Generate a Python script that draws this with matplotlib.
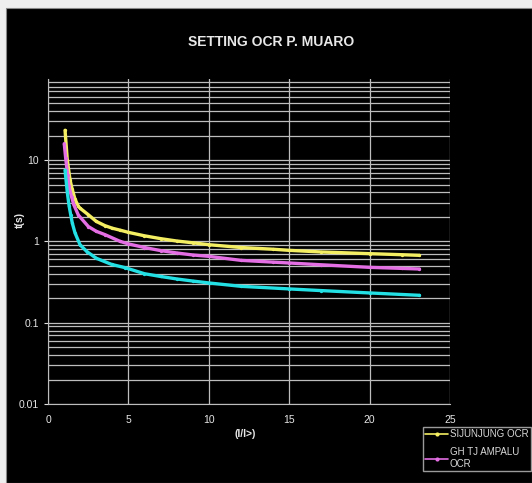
import matplotlib
matplotlib.use("Agg")
import matplotlib.pyplot as plt
from matplotlib.patches import Rectangle
from matplotlib.ticker import LogLocator, FixedLocator, NullFormatter, FixedFormatter

# ---- data ----
yellow_x = [1.06, 1.2, 1.37, 1.5, 1.68, 1.89, 2.0, 2.5, 3.0, 3.54, 4.0, 4.5, 5, 6, 7, 8, 9,
            10, 12, 14, 15, 17, 20, 22, 23.1]
yellow_t = [23.2, 10, 5.7, 4.4, 3.3, 2.69, 2.55, 2.13, 1.76, 1.56, 1.45, 1.37, 1.29, 1.17,
            1.08, 1.01, 0.96, 0.91, 0.84, 0.80, 0.775, 0.74, 0.706, 0.685, 0.673]

magenta_x = [1.01, 1.1, 1.22, 1.3, 1.47, 1.6, 1.89, 2.51, 3.0, 3.54, 4.48, 5, 6, 7, 8, 9,
             10, 12, 14, 15, 17, 20, 22, 23.1]
magenta_t = [15.9, 10.5, 6.6, 4.75, 3.5, 2.83, 2.1, 1.52, 1.33, 1.21, 1.0, 0.93, 0.84,
             0.77, 0.72, 0.68, 0.654, 0.584, 0.555, 0.542, 0.515, 0.479, 0.465, 0.457]

cyan_x = [1.06, 1.2, 1.31, 1.41, 1.51, 1.68, 1.99, 2.41, 3.0, 3.96, 4.79, 6, 7, 8, 9,
          10, 12, 15, 17, 20, 23.1]
cyan_t = [7.5, 4.0, 2.75, 2.13, 1.68, 1.27, 0.91, 0.75, 0.62, 0.52, 0.475, 0.40, 0.37,
          0.345, 0.325, 0.308, 0.28, 0.26, 0.248, 0.232, 0.217]

series_labels = ["SIJUNJUNG OCR", "GH TJ AMPALU\nOCR", "_nolegend_"]
series_colors = ["#f4ef62", "#e46ee4", "#22e0e4"]

x_ticks = [0, 5, 10, 15, 20, 25]
y_ticks = [0.01, 0.1, 1, 10]
y_tick_labels = ["0.01", "0.1", "1", "10"]

title = "SETTING OCR P. MUARO"
xlabel = "(I/I>)"
ylabel = "t(s)"

# ---- figure ----
W, H = 532, 483
fig = plt.figure(figsize=(W / 100, H / 100), dpi=100, facecolor="#eeeeee")
fig.patches.append(Rectangle((6 / W, 0), 1 - 6 / W, 1 - 8 / H, transform=fig.transFigure,
                             facecolor="black", edgecolor="#888888", lw=0.8, zorder=-10))

fam = ["Liberation Sans Narrow", "Liberation Sans", "DejaVu Sans"]

ax = fig.add_axes([48 / W, 1 - 404 / H, (450 - 48) / W, (404 - 78.7) / H])
ax.set_zorder(1)
ax.set_facecolor("black")
ax.set_yscale("log")
ax.set_xlim(0, 25)
ax.set_ylim(0.01, 100)

grid_c = "#bdbdbd"
ax.xaxis.set_major_locator(FixedLocator(x_ticks))
ax.yaxis.set_major_locator(FixedLocator(y_ticks))
ax.yaxis.set_major_formatter(FixedFormatter(y_tick_labels))
ax.yaxis.set_minor_locator(LogLocator(base=10, subs=range(2, 10), numticks=20))
ax.yaxis.set_minor_formatter(NullFormatter())
ax.grid(True, which="major", axis="both", color=grid_c, lw=0.9)
ax.grid(True, which="minor", axis="y", color=grid_c, lw=0.9)
ax.set_axisbelow(True)
for s in ["top", "right"]:
    ax.spines[s].set_visible(False)
for s in ["left", "bottom"]:
    ax.spines[s].set_color(grid_c)
ax.tick_params(axis="both", which="major", colors="#e0e0e0", labelsize=7.5, length=3,
               direction="out", width=0.8)
ax.tick_params(axis="x", length=0, pad=8)
ax.tick_params(axis="y", which="minor", length=0)
for lab in ax.get_xticklabels() + ax.get_yticklabels():
    lab.set_family(fam)
    lab.set_color("#e6e6e6")

data = [(yellow_x, yellow_t), (magenta_x, magenta_t), (cyan_x, cyan_t)]
for (xs, ts), lab, col in zip(data, series_labels, series_colors):
    ax.plot(xs, ts, color=col, lw=2.4, marker="o", ms=2.4, mec=col, mfc=col, mew=0,
            label=lab, solid_capstyle="round", solid_joinstyle="round")

fig.text(271 / W, 1 - 42 / H, title, ha="center", va="center", color="#e8e8e8",
         fontsize=10, fontweight="bold", family=fam)
fig.text(245 / W, 1 - 434 / H, xlabel, ha="center", va="center", color="#e8e8e8",
         fontsize=7.5, fontweight="bold", family=fam)
fig.text(20 / W, 1 - 220 / H, ylabel, ha="center", va="center", color="#e8e8e8",
         fontsize=7.5, fontweight="bold", rotation=90, family=fam)

handles, labels = ax.get_legend_handles_labels()
leg = fig.legend(handles, labels, loc="upper left", bbox_to_anchor=(423 / W, 1 - 427 / H),
                 bbox_transform=fig.transFigure, fontsize=7, frameon=True,
                 facecolor="black", edgecolor="#9a9a9a", framealpha=1, fancybox=False,
                 handlelength=2.3, handletextpad=0.2, borderpad=0.25, labelspacing=0.8,
                 borderaxespad=0, prop={"family": fam, "size": 7})
leg.set_zorder(5)
for line in leg.get_lines():
    line.set_linewidth(1.2)
    line.set_markersize(3)
for t in leg.get_texts():
    t.set_color("#d8d8d8")

fig.savefig("out.png", dpi=100, facecolor=fig.get_facecolor())
